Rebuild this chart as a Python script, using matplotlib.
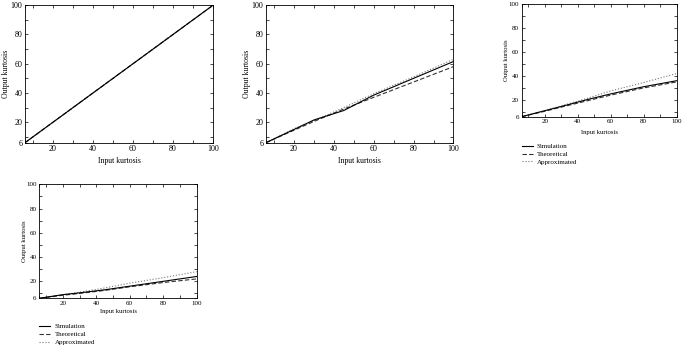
import matplotlib
matplotlib.use('Agg')
import matplotlib.pyplot as plt
from matplotlib.ticker import FixedLocator

plt.rcParams['font.family'] = ['Liberation Serif', 'DejaVu Serif']

# Input kurtosis points (same for every panel)
x_pts = [6, 20, 30, 45, 60, 80, 100]

# Panel 1: all curves on the identity line
sim_1 = [6, 20, 30, 45, 60, 80, 100]
theo_1 = [6, 20, 30, 45, 60, 80, 100]
appr_1 = [6, 20, 30, 45, 60, 80, 100]

# Panel 2
sim_2 = [6, 15, 21.5, 28, 38.5, 50, 61.5]
theo_2 = [6, 14.5, 20.5, 29, 37, 47.5, 58]
appr_2 = [6, 15.5, 21, 30, 39.5, 51, 63]

# Panel 3
sim_3 = [6, 11, 14.5, 20, 25, 31, 36]
theo_3 = [6, 10.5, 14, 19, 24, 30, 35]
appr_3 = [6, 11, 15, 21, 27.5, 34.5, 42]

# Panel 4
sim_4 = [6, 9, 10.5, 13, 16, 20, 24]
theo_4 = [6, 8.5, 10, 12.5, 15.5, 19, 22]
appr_4 = [6, 9, 11, 14.5, 18.5, 23, 28]

major_ticks = [6, 20, 40, 60, 80, 100]
x_labels = ['', '20', '40', '60', '80', '100']
y_labels = ['6', '20', '40', '60', '80', '100']
minor_ticks = [10, 30, 50, 70, 90]

legend_names = ['Simulation', 'Theoretical', 'Approximated']

fig = plt.figure(figsize=(6.85, 3.48), dpi=100)

# rect, data, legend offset, tick font, label font, xlabel y, ylabel x
panels = [
    ([0.0365, 0.590, 0.2745, 0.395], sim_1, theo_1, appr_1, None, 5.8, 5.6, -0.133, -0.10),
    ([0.3883, 0.590, 0.2737, 0.395], sim_2, theo_2, appr_2, None, 5.8, 5.6, -0.133, -0.10),
    ([0.7616, 0.6647, 0.2263, 0.3239], sim_3, theo_3, appr_3, -0.235, 5.0, 4.8, -0.136, -0.097),
    ([0.0574, 0.1428, 0.2298, 0.3276], sim_4, theo_4, appr_4, -0.22, 5.0, 4.8, -0.12, -0.095),
]

for rect, sim, theo, appr, leg_y, tick_fs, lab_fs, xl_y, yl_x in panels:
    ax = fig.add_axes(rect)
    ax.plot(x_pts, appr, color='#777777', linestyle=':', linewidth=0.8, label=legend_names[2])
    ax.plot(x_pts, theo, color='#333333', linestyle=(0, (4, 2)), linewidth=0.8, label=legend_names[1])
    ax.plot(x_pts, sim, color='black', linestyle='-', linewidth=0.8, label=legend_names[0])
    ax.set_xlim(6, 100)
    ax.set_ylim(6, 100)
    ax.xaxis.set_major_locator(FixedLocator(major_ticks))
    ax.yaxis.set_major_locator(FixedLocator(major_ticks))
    ax.xaxis.set_minor_locator(FixedLocator(minor_ticks))
    ax.yaxis.set_minor_locator(FixedLocator(minor_ticks))
    ax.set_xticklabels(x_labels)
    ax.set_yticklabels(y_labels)
    ax.tick_params(which='both', direction='in', top=True, right=True,
                   labelsize=tick_fs, width=0.5, pad=2, length=2.5)
    for s in ax.spines.values():
        s.set_linewidth(0.6)
    ax.set_xlabel('Input kurtosis', fontsize=lab_fs)
    ax.set_ylabel('Output kurtosis', fontsize=lab_fs)
    ax.xaxis.set_label_coords(0.5, xl_y)
    ax.yaxis.set_label_coords(yl_x, 0.5)
    ax.xaxis.label.set_va('center')
    ax.yaxis.label.set_va('center')
    if leg_y is not None:
        handles, labels = ax.get_legend_handles_labels()
        ax.legend(handles[::-1], labels[::-1], loc='upper left',
                  bbox_to_anchor=(0, leg_y), frameon=False, fontsize=5,
                  borderaxespad=0, borderpad=0, handlelength=1.6,
                  handletextpad=0.6, labelspacing=0.3)

fig.savefig('out.png', dpi=100)
